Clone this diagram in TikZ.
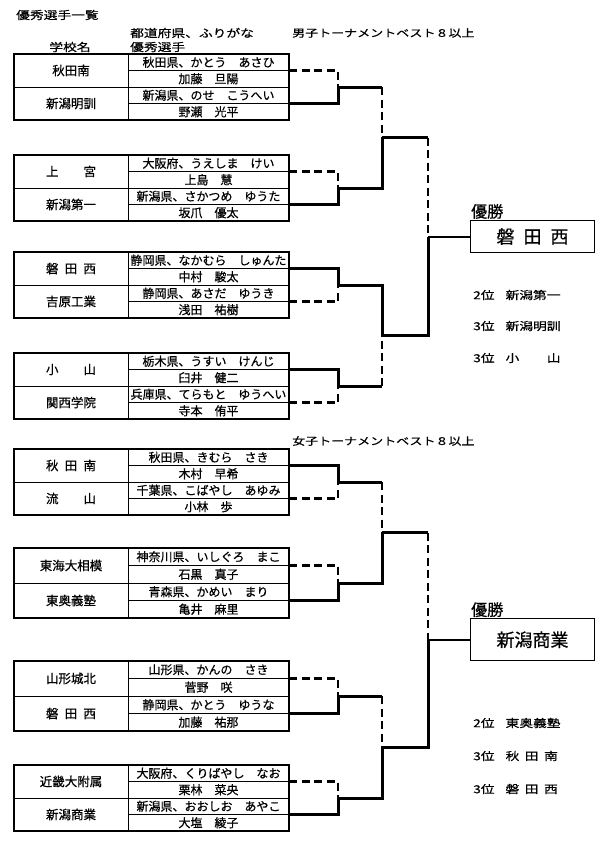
\documentclass[tikz,border=0pt]{standalone}
\usepackage{fontspec}
\setmainfont[FakeBold=0.6]{Noto Sans CJK JP}
\newfontfamily\widefont[FakeStretch=1.25, FakeBold=0.6]{Noto Sans CJK JP}
\usetikzlibrary{calc}

\begin{document}
\begin{tikzpicture}[x=1pt, y=-1pt,
    school/.style={draw, line width=0.8pt, outer sep=0pt, inner sep=0pt, anchor=north west,
      minimum width=114pt, font=\fontsize{12.5}{14}\selectfont},
    cell/.style={draw, line width=0.5pt, outer sep=0pt, inner sep=0pt, anchor=north west,
      minimum width=161pt, font=\fontsize{12}{14}\selectfont},
    head/.style={inner sep=0pt, font=\widefont\fontsize{11}{13}\selectfont},
    rank/.style={anchor=west, inner sep=0pt, font=\widefont\fontsize{11}{13}\selectfont},
    winbox/.style={draw, line width=1pt, anchor=west, minimum width=124pt, font=\fontsize{18}{20}\selectfont},
    winlabel/.style={anchor=south west, inner sep=1pt, font=\fontsize{16}{18}\selectfont},
    won/.style={line width=3pt},
    lost/.style={line width=2.3pt, dash pattern=on 8pt off 4.5pt},
    final/.style={line width=2pt}]
  \useasboundingbox (0,0) rectangle (600,846);

  % headings
  \node[head, anchor=west] (title) at (16,15) {優秀選手一覧};
  \node[head, anchor=west] (colpref) at (130,33) {都道府県、ふりがな};
  \node[head, anchor=west] (colplayer) at (130,47) {優秀選手};
  \node[head] (colschool) at (70,47) {学校名};
  \node[head, anchor=west, font=\widefont\fontsize{10.4}{13}\selectfont] (boystitle) at (292,33) {男子トーナメントベスト８以上};
  \node[head, anchor=west, font=\widefont\fontsize{10.4}{13}\selectfont] (girlstitle) at (292,441) {女子トーナメントベスト８以上};

  % boys table
  \node[school, minimum height=33pt] (b1) at (14,54) {秋田南};
  \node[cell, minimum height=16.5pt] (b1p) at (b1.north east) {秋田県、かとう　あさひ};
  \node[cell, minimum height=16.5pt] (b1n) at (b1p.south west) {加藤　旦陽};
  \node[school, minimum height=33pt] (b2) at (b1.south west) {新潟明訓};
  \node[cell, minimum height=16.5pt] (b2p) at (b2.north east) {新潟県、のせ　こうへい};
  \node[cell, minimum height=16.5pt] (b2n) at (b2p.south west) {野瀬　光平};
  \draw[line width=1.2pt] (b1.north west) rectangle (b2n.south east);

  \node[school, minimum height=33pt] (b3) at (14,155) {上　　宮};
  \node[cell, minimum height=16.5pt] (b3p) at (b3.north east) {大阪府、うえしま　けい};
  \node[cell, minimum height=16.5pt] (b3n) at (b3p.south west) {上島　慧};
  \node[school, minimum height=33pt] (b4) at (b3.south west) {新潟第一};
  \node[cell, minimum height=16.5pt] (b4p) at (b4.north east) {新潟県、さかつめ　ゆうた};
  \node[cell, minimum height=16.5pt] (b4n) at (b4p.south west) {坂爪　優太};
  \draw[line width=1.2pt] (b3.north west) rectangle (b4n.south east);

  \node[school, minimum height=33pt] (b5) at (14,252) {磐\enspace 田\enspace 西};
  \node[cell, minimum height=16.5pt] (b5p) at (b5.north east) {静岡県、なかむら　しゅんた};
  \node[cell, minimum height=16.5pt] (b5n) at (b5p.south west) {中村　駿太};
  \node[school, minimum height=33pt] (b6) at (b5.south west) {吉原工業};
  \node[cell, minimum height=16.5pt] (b6p) at (b6.north east) {静岡県、あさだ　ゆうき};
  \node[cell, minimum height=16.5pt] (b6n) at (b6p.south west) {浅田　祐樹};
  \draw[line width=1.2pt] (b5.north west) rectangle (b6n.south east);

  \node[school, minimum height=33pt] (b7) at (14,353) {小　　山};
  \node[cell, minimum height=16.5pt] (b7p) at (b7.north east) {栃木県、うすい　けんじ};
  \node[cell, minimum height=16.5pt] (b7n) at (b7p.south west) {臼井　健二};
  \node[school, minimum height=33pt] (b8) at (b7.south west) {関西学院};
  \node[cell, minimum height=16.5pt] (b8p) at (b8.north east) {兵庫県、てらもと　ゆうへい};
  \node[cell, minimum height=16.5pt] (b8n) at (b8p.south west) {寺本　侑平};
  \draw[line width=1.2pt] (b7.north west) rectangle (b8n.south east);

  % girls table
  \node[school, minimum height=33pt] (g1) at (14,449) {秋\enspace 田\enspace 南};
  \node[cell, minimum height=16.5pt] (g1p) at (g1.north east) {秋田県、きむら　さき};
  \node[cell, minimum height=16.5pt] (g1n) at (g1p.south west) {木村　早希};
  \node[school, minimum height=33pt] (g2) at (g1.south west) {流　　山};
  \node[cell, minimum height=16.5pt] (g2p) at (g2.north east) {千葉県、こばやし　あゆみ};
  \node[cell, minimum height=16.5pt] (g2n) at (g2p.south west) {小林　歩};
  \draw[line width=1.2pt] (g1.north west) rectangle (g2n.south east);

  \node[school, minimum height=35pt] (g3) at (14,548) {東海大相模};
  \node[cell, minimum height=17.5pt] (g3p) at (g3.north east) {神奈川県、いしぐろ　まこ};
  \node[cell, minimum height=17.5pt] (g3n) at (g3p.south west) {石黒　真子};
  \node[school, minimum height=35pt] (g4) at (g3.south west) {東奥義塾};
  \node[cell, minimum height=17.5pt] (g4p) at (g4.north east) {青森県、かめい　まり};
  \node[cell, minimum height=17.5pt] (g4n) at (g4p.south west) {亀井　麻里};
  \draw[line width=1.2pt] (g3.north west) rectangle (g4n.south east);

  \node[school, minimum height=35pt] (g5) at (14,661) {山形城北};
  \node[cell, minimum height=17.5pt] (g5p) at (g5.north east) {山形県、かんの　さき};
  \node[cell, minimum height=17.5pt] (g5n) at (g5p.south west) {菅野　咲};
  \node[school, minimum height=35pt] (g6) at (g5.south west) {磐\enspace 田\enspace 西};
  \node[cell, minimum height=17.5pt] (g6p) at (g6.north east) {静岡県、かとう　ゆうな};
  \node[cell, minimum height=17.5pt] (g6n) at (g6p.south west) {加藤　祐那};
  \draw[line width=1.2pt] (g5.north west) rectangle (g6n.south east);

  \node[school, minimum height=33pt] (g7) at (14,765) {近畿大附属};
  \node[cell, minimum height=16.5pt] (g7p) at (g7.north east) {大阪府、くりばやし　なお};
  \node[cell, minimum height=16.5pt] (g7n) at (g7p.south west) {栗林　菜央};
  \node[school, minimum height=33pt] (g8) at (g7.south west) {新潟商業};
  \node[cell, minimum height=16.5pt] (g8p) at (g8.north east) {新潟県、おおしお　あやこ};
  \node[cell, minimum height=16.5pt] (g8n) at (g8p.south west) {大塩　綾子};
  \draw[line width=1.2pt] (g7.north west) rectangle (g8n.south east);

  % boys bracket
  \coordinate (bj1) at ($(b1p.south east)!0.5!(b2p.south east)+(49,0)$);
  \coordinate (bj2) at ($(b3p.south east)!0.5!(b4p.south east)+(49,0)$);
  \coordinate (bj3) at ($(b5p.south east)!0.5!(b6p.south east)+(49,0)$);
  \coordinate (bj4) at ($(b7p.south east)!0.5!(b8p.south east)+(49,0)$);
  \coordinate (bs1) at ($(bj1)!0.5!(bj2)+(44,0)$);
  \coordinate (bs2) at ($(bj3)!0.5!(bj4)+(44,0)$);
  \coordinate (bf) at ($(bs1)!0.5!(bs2)+(46,0)$);
  \draw[lost] (b1p.south east) -| (bj1);
  \draw[won] (b2p.south east) -| (bj1);
  \draw[lost] (b3p.south east) -| (bj2);
  \draw[won] (b4p.south east) -| (bj2);
  \draw[won] (b5p.south east) -| (bj3);
  \draw[lost] (b6p.south east) -| (bj3);
  \draw[won] (b7p.south east) -| (bj4);
  \draw[lost] (b8p.south east) -| (bj4);
  \draw[won] (bj1) -- (bj1 -| bs1);
  \draw[lost] (bj1 -| bs1) -- (bs1);
  \draw[won] (bj2) -| (bs1);
  \draw[won] (bj3) -| (bs2);
  \draw[won] (bj4) -- (bj4 -| bs2);
  \draw[lost] (bj4 -| bs2) -- (bs2);
  \draw[won] (bs1) -- (bs1 -| bf);
  \draw[lost] (bs1 -| bf) -- (bf);
  \draw[won] (bs2) -| (bf);
  \node[winbox, minimum height=32pt] (bwin) at ($(bf)+(42,0)$) {磐\enspace 田\enspace 西};
  \node[winlabel] (bwinlabel) at (bwin.north west) {優勝};
  \draw[final] (bf) -- (bwin.west);
  \node[rank] (bsecond) at (473,295) {2位\quad 新潟第一};
  \node[rank] (bthird) at (473,326) {3位\quad 新潟明訓};
  \node[rank] (bthird2) at (473,358) {3位\quad 小　　山};

  % girls bracket
  \coordinate (gj1) at ($(g1p.south east)!0.5!(g2p.south east)+(49,0)$);
  \coordinate (gj2) at ($(g3p.south east)!0.5!(g4p.south east)+(49,0)$);
  \coordinate (gj3) at ($(g5p.south east)!0.5!(g6p.south east)+(49,0)$);
  \coordinate (gj4) at ($(g7p.south east)!0.5!(g8p.south east)+(49,0)$);
  \coordinate (gs1) at ($(gj1)!0.5!(gj2)+(44,0)$);
  \coordinate (gs2) at ($(gj3)!0.5!(gj4)+(44,0)$);
  \coordinate (gf) at ($(gs1)!0.5!(gs2)+(46,0)$);
  \draw[won] (g1p.south east) -| (gj1);
  \draw[lost] (g2p.south east) -| (gj1);
  \draw[lost] (g3p.south east) -| (gj2);
  \draw[won] (g4p.south east) -| (gj2);
  \draw[lost] (g5p.south east) -| (gj3);
  \draw[won] (g6p.south east) -| (gj3);
  \draw[lost] (g7p.south east) -| (gj4);
  \draw[won] (g8p.south east) -| (gj4);
  \draw[won] (gj1) -- (gj1 -| gs1);
  \draw[lost] (gj1 -| gs1) -- (gs1);
  \draw[won] (gj2) -| (gs1);
  \draw[won] (gj3) -- (gj3 -| gs2);
  \draw[lost] (gj3 -| gs2) -- (gs2);
  \draw[won] (gj4) -| (gs2);
  \draw[won] (gs1) -- (gs1 -| gf);
  \draw[lost] (gs1 -| gf) -- (gf);
  \draw[won] (gs2) -| (gf);
  \node[winbox, minimum height=42pt] (gwin) at ($(gf)+(42,0)$) {新潟商業};
  \node[winlabel] (gwinlabel) at (gwin.north west) {優勝};
  \draw[final] (gf) -- (gwin.west);
  \node[rank] (gsecond) at (473,723) {2位\quad 東奥義塾};
  \node[rank] (gthird) at (473,756) {3位\quad 秋\enspace 田\enspace 南};
  \node[rank] (gthird2) at (473,789) {3位\quad 磐\enspace 田\enspace 西};
\end{tikzpicture}
\end{document}
